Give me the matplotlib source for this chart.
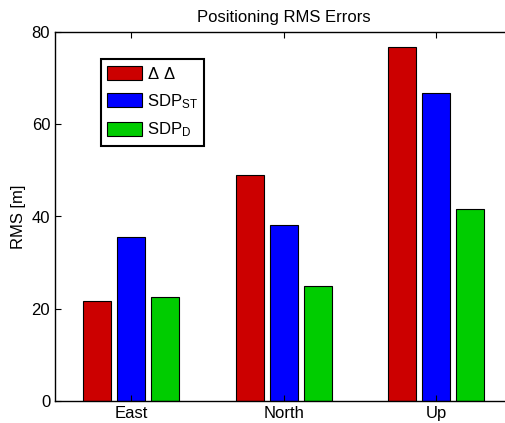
import numpy as np
import matplotlib
matplotlib.use("Agg")
import matplotlib.pyplot as plt

plt.rcParams['font.family'] = ['Liberation Sans', 'DejaVu Sans']
plt.rcParams['mathtext.default'] = 'regular'

# RMS errors per component
components = ['East', 'North', 'Up']
series_names = [r'$\Delta\ \Delta$', r'SDP$_{ST}$', r'SDP$_{D}$']
dd_rms = [21.7, 49.1, 76.7]
sdp_st_rms = [35.5, 38.2, 66.7]
sdp_d_rms = [22.5, 24.9, 41.6]
colors = ['#cc0000', '#0000ff', '#00cc00']

fig = plt.figure(figsize=(5.06, 4.23), dpi=100)
ax = fig.add_axes([55 / 506, 22 / 423, 457.5 / 506, 369 / 423])

x = np.arange(1, len(components) + 1)
step = 0.223
width = 0.183
for i, (vals, name, c) in enumerate(zip([dd_rms, sdp_st_rms, sdp_d_rms], series_names, colors)):
    ax.bar(x + (i - 1) * step, vals, width, color=c, edgecolor='black',
           linewidth=0.8, label=name)

ax.set_xlim(0.5, 3.5)
ax.set_ylim(0, 80)
ax.set_xticks(x)
ax.set_xticklabels(components)
ax.set_yticks([0, 20, 40, 60, 80])
ax.tick_params(direction='in', top=True, right=False, length=4, labelsize=12)
ax.spines['right'].set_visible(False)
for s in ax.spines.values():
    s.set_linewidth(1.0)

ax.set_ylabel('RMS [m]', fontsize=12, labelpad=4)
ax.set_title('Positioning RMS Errors', fontsize=12, pad=7)

leg = ax.legend(loc='upper left', bbox_to_anchor=(0.1, 0.926), fontsize=12,
                handlelength=2.05, handleheight=0.9, labelspacing=0.6,
                handletextpad=0.3, borderpad=0.4, fancybox=False,
                framealpha=1, edgecolor='black', borderaxespad=0)
leg.get_frame().set_linewidth(1.5)

fig.savefig('out.png', dpi=100)
